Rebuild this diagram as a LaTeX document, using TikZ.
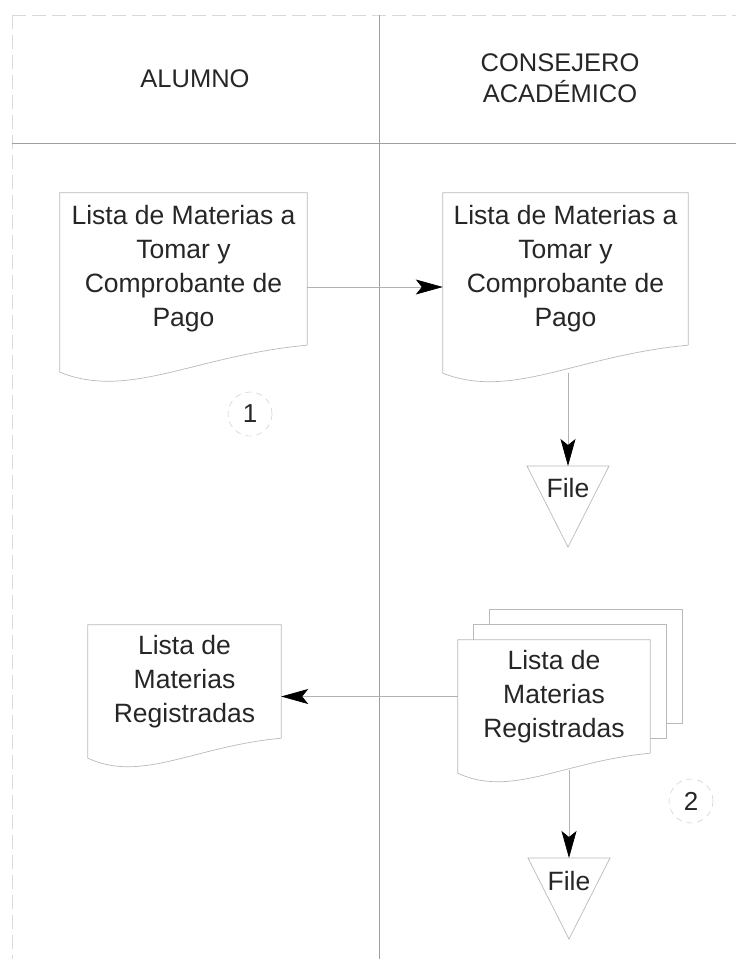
\documentclass[tikz,border=0pt]{standalone}
\usepackage{fontspec}
\setmainfont{Liberation Sans}
\usetikzlibrary{arrows.meta,calc}
\newcommand\docout[4]{%
  \draw[docline] (#1.south east) -- (#1.north east) -- (#1.north west)
    -- ($(#1.south west)+(0,#2)$)
    .. controls ($(#1.south west)!0.28!(#1.south east)+(0,#3)$)
           and ($(#1.south west)!0.55!(#1.south east)+(0,#4)$) .. (#1.south east);}
\tikzset{
  lane/.style={draw=gray!75, line width=0.9pt},
  faint/.style={draw=gray!30, line width=0.6pt, dash pattern=on 14pt off 6pt},
  docline/.style={draw=gray!55, line width=0.7pt},
  flow/.style={draw=gray!60, line width=0.7pt,
    -{Stealth[length=27pt,width=15pt,inset=6pt,color=black]}},
  txt/.style={font=\fontsize{26.5}{34}\selectfont, text=black!85, align=center, inner sep=0pt},
  hdr/.style={font=\fontsize{25.5}{31}\selectfont, text=black!85, align=center, inner sep=0pt},
  docbox/.style 2 args={txt, minimum width=#1pt, minimum height=#2pt},
  numc/.style={circle, draw=gray!35, line width=0.6pt, dash pattern=on 6pt off 5pt,
    minimum size=44pt, inner sep=0pt, font=\fontsize{26}{30}\selectfont, text=black!85}
}
\begin{document}
\begin{tikzpicture}[x=1pt,y=-1pt]
\useasboundingbox (0,0) rectangle (736,959);
% lanes
\coordinate (tl) at (12,15);
\coordinate (tr) at (736,15);
\coordinate (bl) at (12,959);
\coordinate (hl) at (12,143);
\coordinate (hr) at (736,143);
\coordinate (dt) at (379,15);
\coordinate (db) at (379,959);
\draw[faint] (tl) -- (tr);
\draw[faint] (tl) -- (bl);
\draw[lane] (hl) -- (hr);
\draw[lane] (dt) -- (db);
% headers
\node[hdr] (h1) at (195,78.5) {ALUMNO};
\node[hdr] (h2) at (560,78) {CONSEJERO\\ACADÉMICO};
% documents
\node[docbox={247}{152}] (d1) at (183.5,269) {Lista de Materias a\\Tomar y\\Comprobante de\\Pago};
\docout{d1}{27}{55}{10}
\node[docbox={245}{152}] (d2) at (565.5,269) {Lista de Materias a\\Tomar y\\Comprobante de\\Pago};
\docout{d2}{28}{55}{10}
\node[numc] (n1) at (250,414) {1};
% file 1
\node[txt] (f1) at (568,488) {File};
\coordinate (f1t) at ($(f1)+(0,-22)$);
\draw[docline] ($(f1t)+(-41,0)$) -- ($(f1t)+(41,0)$) -- ($(f1t)+(0,81)$) -- cycle;
\coordinate (s1) at ($(d2.south)+(0,28)$);
\draw[flow] ([yshift=-18pt]d1.east) -- ([yshift=-18pt]d2.west);
\draw[flow] (f1t |- s1) -- (f1t);
% registered list
\node[docbox={193}{113}] (d3) at (184.5,681.5) {Lista de\\Materias\\Registradas};
\docout{d3}{20}{45}{8}
\node[docbox={192}{113}] (d4) at (554,696.5) {Lista de\\Materias\\Registradas};
\draw[docline] ($(d4.north west)+(32,-15)$) -- ($(d4.north west)+(32,-30)$)
  -- ($(d4.north east)+(32,-30)$) -- ($(d4.south east)+(32,-30)$) -- ($(d4.south east)+(16,-30)$);
\draw[docline] ($(d4.north west)+(16,0)$) -- ($(d4.north west)+(16,-15)$)
  -- ($(d4.north east)+(16,-15)$) -- ($(d4.south east)+(16,-15)$) -- ($(d4.south east)+(0,-15)$);
\docout{d4}{20}{45}{8}
\node[numc] (n2) at (691,801) {2};
\draw[flow] (d4.west) -- (d3.east |- d4.west);
% file 2
\node[txt] (f2) at (569,881) {File};
\coordinate (f2t) at ($(f2)+(0,-23)$);
\draw[docline] ($(f2t)+(-41,0)$) -- ($(f2t)+(41,0)$) -- ($(f2t)+(0,81)$) -- cycle;
\coordinate (s2) at ($(d4.south)+(0,17)$);
\draw[flow] (f2t |- s2) -- (f2t);
\end{tikzpicture}
\end{document}
